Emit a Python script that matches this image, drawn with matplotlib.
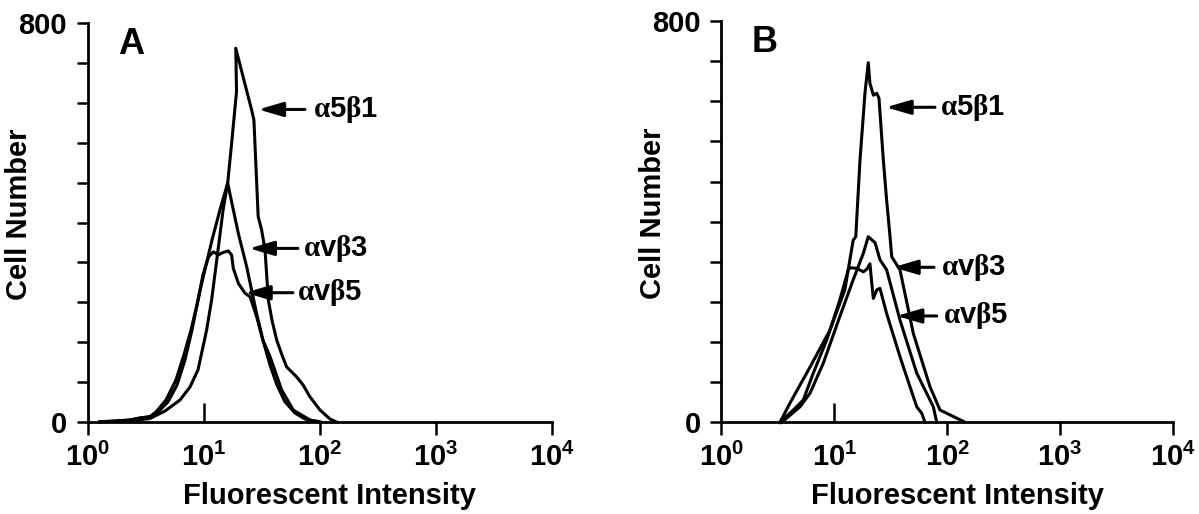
import matplotlib
matplotlib.use("Agg")
import matplotlib.pyplot as plt
import matplotlib.lines as mlines
from matplotlib.ticker import NullLocator

plt.rcParams['font.family'] = ['Liberation Sans', 'DejaVu Sans']
plt.rcParams['font.weight'] = 'bold'
plt.rcParams['mathtext.fontset'] = 'custom'
plt.rcParams['mathtext.bf'] = 'Liberation Sans:bold'
plt.rcParams['mathtext.rm'] = 'Liberation Serif'
plt.rcParams['mathtext.it'] = 'Liberation Serif'

# panel A : fluorescent intensity vs cell number
a_a5b1_x = [1.28, 2.32, 3.44, 4.64, 6.25, 7.62, 8.93, 10.6, 11.7, 13.3, 14.7, 16.1, 17.2, 19.2, 18.9,
            25.9, 27.1, 28.2, 29.5, 31.6, 33.8, 36.1, 38.8, 42.6, 47.3, 51.9, 63.3, 71.8, 82.5, 100.6, 122.7, 138]
a_a5b1_y = [0, 1.4, 6.4, 21.5, 43.6, 69.7, 104, 184, 244, 345, 425, 479, 546, 663, 750,
            626, 606, 515, 412, 385, 345, 244, 204, 164, 134, 110, 90, 74, 50, 23.5, 5.4, 0]

a_avb3_x = [1.28, 1.65, 2.32, 2.82, 3.44, 4.04, 4.92, 5.89, 6.90, 7.93, 9.31, 11.8, 13.8, 16.1,
            19.9, 23.5, 25.9, 28.8, 32.4, 37.3, 42.8, 50.2, 61.2, 74.8, 94.8]
a_avb3_y = [0, 1, 3.4, 7.4, 10, 19.5, 39.6, 73.7, 124, 184, 264, 365, 425, 479,
            378, 311, 264, 214, 164, 114, 74, 40, 17.5, 5.4, 0]

a_avb5_x = [1.28, 1.65, 2.32, 2.82, 3.44, 3.88, 4.73, 5.77, 6.75, 7.77, 8.93, 9.86, 11.0, 12.1, 13.4, 14.4,
            16.3, 17.4, 18.0, 19.9, 22.7, 25.1, 28.6, 32.4, 37.3, 47.0, 59.2, 82.5, 100.6]
a_avb5_y = [0, 1, 3.4, 7.4, 10, 19.5, 43.6, 84, 134, 184, 244, 295, 331, 341, 335, 339,
            343, 335, 308, 278, 258, 251, 211, 164, 131, 64, 23.5, 3.4, 0]

# panel B
b_a5b1_x = [3.30, 4.05, 6.09, 9.16, 12.4, 14.7, 15.5, 16.9, 18.7, 20.0, 20.7, 22.2, 23.8, 24.9,
            27.2, 29.1, 31.2, 32.3, 38.2, 50.2, 70.5, 86.5, 115, 140]
b_a5b1_y = [0, 38.5, 110, 184, 264, 363, 370, 523, 656, 717, 676, 652, 656, 646,
            523, 443, 370, 330, 304, 177, 71, 24.5, 11, 1.6]

b_avb3_x = [3.42, 4.97, 6.09, 7.99, 11.2, 14.7, 18.1, 20.0, 23.0, 25.4, 29.1, 38.2, 53.8, 75.5, 80.9]
b_avb3_y = [0, 31, 58, 118, 211, 284, 337, 370, 358, 324, 304, 204, 98, 31, 0]

b_avb5_x = [3.30, 4.33, 5.31, 6.51, 8.56, 11.2, 13.3, 13.8, 15.8, 18.1, 19.4, 20.7, 21.5, 22.2, 23.8,
            25.4, 29.1, 38.2, 46.9, 53.8, 59.6, 63.7]
b_avb5_y = [0, 24.5, 44.5, 98, 164, 244, 304, 308, 307, 300, 305, 316, 277, 247, 264,
            267, 217, 131, 71, 31, 18, 0]

names = [r'$\alpha\mathbf{5}\beta\mathbf{1}$', r'$\alpha\mathbf{v}\beta\mathbf{3}$', r'$\alpha\mathbf{v}\beta\mathbf{5}$']
# arrow tip, arrow tail, label start (x), y level
a_arrow_tip = [29.6, 24.7, 22.7]
a_arrow_tail = [74.7, 65.0, 58.9]
a_label_x = [87.5, 71.8, 63.7]
a_arrow_y = [627, 348, 259]
b_arrow_tip = [28.7, 33.1, 35.7]
b_arrow_tail = [78.1, 76.6, 80.9]
b_label_x = [86.5, 88.3, 92.0]
b_arrow_y = [628, 309, 212]

xticks = [1, 10, 100, 1000, 10000]
xticklabels = [r'$\mathbf{10^{%d}}$' % i for i in range(5)]
yticks = [0, 80, 160, 240, 320, 400, 480, 560, 640, 720, 800]
yticklabels = ['0', '', '', '', '', '', '', '', '', '', '800']

fig = plt.figure(figsize=(11.99, 5.14), dpi=100)
axA = fig.add_axes([0.07315, 0.17957, 0.38691, 0.77510])
axB = fig.add_axes([0.60175, 0.17840, 0.37631, 0.78074])


def style(ax, letter, ylab_x, xlab_x, xlab_y):
    ax.set_xscale('log')
    ax.set_xlim(1, 10000)
    ax.set_ylim(0, 800)
    ax.spines['top'].set_visible(False)
    ax.spines['right'].set_visible(False)
    ax.spines['left'].set_linewidth(2)
    ax.spines['bottom'].set_linewidth(2)
    ax.set_xticks(xticks)
    ax.set_xticklabels(xticklabels, fontsize=21)
    ax.xaxis.set_minor_locator(NullLocator())
    ax.set_yticks(yticks)
    ax.set_yticklabels(yticklabels, fontsize=21, fontweight='bold')
    ax.tick_params(axis='y', direction='out', length=8, width=1.8, pad=7)
    ax.tick_params(axis='x', direction='out', length=9, width=1.8, pad=6)
    t = ax.xaxis.get_major_ticks()[1]
    t.tick1line.set_marker(mlines.TICKUP)
    t.tick1line.set_markersize(14)
    ax.set_ylabel('Cell Number', fontsize=21, fontweight='bold')
    ax.yaxis.set_label_coords(ylab_x, 0.52)
    ax.set_xlabel('Fluorescent Intensity', fontsize=21, fontweight='bold', va='top')
    ax.xaxis.set_label_coords(xlab_x, xlab_y)
    ax.text(0.066, 0.99, letter, transform=ax.transAxes, fontsize=26,
            fontweight='bold', ha='left', va='top')


style(axA, 'A', -54.7 / 464, 0.521, -0.151)
style(axB, 'B', -54.5 / 451, 0.524, -0.149)

for ax, series in [(axA, [(a_a5b1_x, a_a5b1_y), (a_avb3_x, a_avb3_y), (a_avb5_x, a_avb5_y)]),
                   (axB, [(b_a5b1_x, b_a5b1_y), (b_avb3_x, b_avb3_y), (b_avb5_x, b_avb5_y)])]:
    for xs, ys in series:
        ax.plot(xs, ys, color='black', lw=2.2, clip_on=False, solid_joinstyle='round')

for ax, tips, tails, lx, ys in [(axA, a_arrow_tip, a_arrow_tail, a_label_x, a_arrow_y),
                                (axB, b_arrow_tip, b_arrow_tail, b_label_x, b_arrow_y)]:
    for i in range(3):
        ax.annotate('', xy=(tips[i], ys[i]), xytext=(tails[i], ys[i]),
                    arrowprops=dict(arrowstyle='-|>,head_length=0.75,head_width=0.22',
                                    mutation_scale=20, lw=2.2, color='black',
                                    shrinkA=0, shrinkB=0))
        ax.text(lx[i], ys[i], names[i], fontsize=21, ha='left', va='center')

fig.savefig('out.png', dpi=100)
